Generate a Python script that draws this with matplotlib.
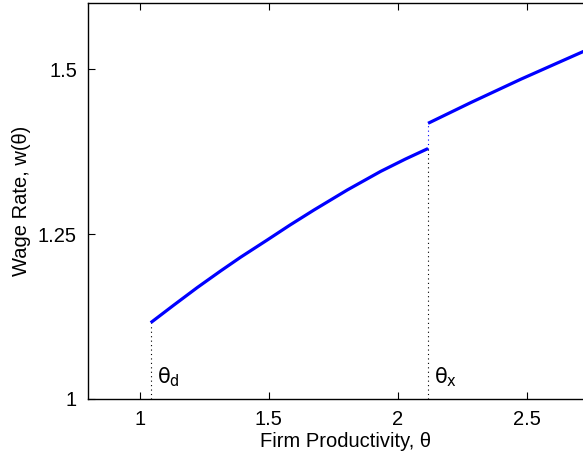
import matplotlib
matplotlib.use("Agg")
import matplotlib.pyplot as plt

plt.rcParams['font.family'] = ['Liberation Sans', 'DejaVu Sans']

# Lower segment (domestic firms): theta vs wage
theta_low = [1.043, 1.133, 1.224, 1.314, 1.391, 1.495, 1.583, 1.676, 1.805, 1.934, 2.030, 2.118]
wage_low = [1.1156, 1.1424, 1.1690, 1.1940, 1.2147, 1.2410, 1.2636, 1.2864, 1.3167, 1.3448, 1.3635, 1.3795]

# Upper segment (exporters)
theta_high = [2.118, 2.283, 2.477, 2.606, 2.718, 2.80]
wage_high = [1.4177, 1.4490, 1.4844, 1.5068, 1.5262, 1.539]

theta_d = 1.043
theta_x = 2.118

xticks = [1, 1.5, 2, 2.5]
yticks = [1, 1.25, 1.5]
ytick_labels = ['1', '1.25', '1.5']

fig = plt.figure(figsize=(5.83, 4.57), dpi=100)
ax = fig.add_axes([88/583, 58/457, 516/583, 396/457])

ax.plot(theta_low, wage_low, color=(0, 0, 1), lw=2.3, solid_capstyle='butt')
ax.plot(theta_high, wage_high, color=(0, 0, 1), lw=2.3, solid_capstyle='butt')

ax.plot([theta_d, theta_d], [1, wage_low[0]], color='k', lw=0.8, ls=(0, (1, 3)))
ax.plot([theta_x, theta_x], [1, wage_low[-1]], color='k', lw=0.8, ls=(0, (1, 3)))
ax.plot([theta_x, theta_x], [wage_low[-1], wage_high[0]], color=(0, 0, 1), lw=0.8, ls=(0, (1, 3)))

ax.text(theta_d + 0.025, 1.033, r'$\mathrm{\theta_d}$', fontsize=15, va='center', ha='left')
ax.text(theta_x + 0.025, 1.033, r'$\mathrm{\theta_x}$', fontsize=15, va='center', ha='left')

ax.set_xlim(0.8, 2.8)
ax.set_ylim(1, 1.6)
ax.set_xticks(xticks)
ax.set_xticklabels(['1', '1.5', '2', '2.5'])
ax.set_yticks(yticks)
ax.set_yticklabels(ytick_labels)
ax.tick_params(direction='in', length=5, width=0.8, labelsize=14.5, top=True, right=True, pad=8)
for s in ax.spines.values():
    s.set_linewidth(1.0)

ax.set_xlabel('Firm Productivity, θ', fontsize=14.5, labelpad=2)
ax.set_ylabel('Wage Rate, w(θ)', fontsize=14.5, labelpad=5)

fig.savefig('out.png', dpi=100)
